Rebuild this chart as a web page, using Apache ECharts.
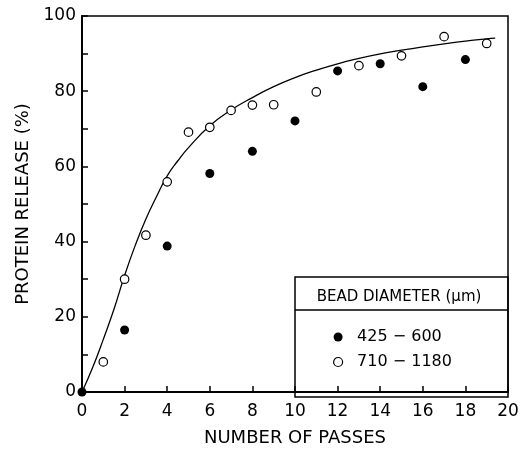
<!DOCTYPE html>
<html>
<head>
<meta charset="utf-8">
<script src="https://cdn.jsdelivr.net/npm/echarts@6/dist/echarts.min.js"></script>
<style>
  html, body { margin: 0; padding: 0; background: #fff; }
  #chart { width: 522px; height: 452px; }
</style>
</head>
<body>
<div id="chart"></div>
<script>
// 425 - 600 um beads (filled)
const smallPasses = [0, 2, 4, 6, 8, 10, 12, 14, 16, 18];
const smallRelease = [0, 16.5, 38.8, 58.1, 64.0, 72.1, 85.4, 87.3, 81.2, 88.4];
// 710 - 1180 um beads (open)
const largePasses = [1, 2, 3, 4, 5, 6, 7, 8, 9, 11, 13, 15, 17, 19];
const largeRelease = [8.0, 30.0, 41.7, 55.9, 69.1, 70.4, 74.9, 76.3, 76.4, 79.8, 86.8, 89.4, 94.5, 92.7];
// fitted curve
const curveX = [0, 0.5, 1, 1.5, 2, 2.5, 3, 3.5, 4, 4.5, 5, 6, 7, 8, 9, 10, 11, 12, 13, 14, 15, 16, 17, 18, 19, 19.4];
const curveY = [0, 6.5, 14, 22, 31, 39, 46, 52, 57.5, 61.5, 65, 70.8, 75, 78.3, 81.2, 83.6, 85.6, 87.3, 88.7, 89.9, 90.9, 91.8, 92.6, 93.3, 93.9, 94.1];

const seriesNames = ['425 \u2212 600', '710 \u2212 1180'];
const legendTitle = 'BEAD DIAMETER (\u03bcm)';

const zip = (xs, ys) => xs.map((x, i) => [x, ys[i]]);

const chart = echarts.init(document.getElementById('chart'));
const font = 'DejaVu Sans';

chart.setOption({
  animation: false,
  textStyle: { fontFamily: font, color: '#000' },
  grid: {
    left: 82, right: 14, top: 16, bottom: 55,
    show: true, borderColor: '#000', borderWidth: 1.5
  },
  xAxis: {
    type: 'value', min: 0, max: 20, interval: 2,
    name: 'NUMBER OF PASSES', nameLocation: 'middle', nameGap: 37,
    nameTextStyle: { fontSize: 18, color: '#000', fontFamily: font },
    axisLine: { lineStyle: { color: '#000', width: 2 } },
    axisTick: { inside: true, length: 6, lineStyle: { color: '#000', width: 1.5 } },
    axisLabel: { fontSize: 17, color: '#000', margin: 11, fontFamily: font },
    splitLine: { show: false }
  },
  yAxis: {
    type: 'value', min: 0, max: 100, interval: 10,
    name: 'PROTEIN RELEASE (%)', nameLocation: 'middle', nameGap: 50,
    nameTextStyle: { fontSize: 18, color: '#000', fontFamily: font },
    axisLine: { lineStyle: { color: '#000', width: 2 } },
    axisTick: { inside: true, length: 6, lineStyle: { color: '#000', width: 1.5 } },
    axisLabel: {
      fontSize: 17, color: '#000', margin: 6, fontFamily: font,
      formatter: v => (v % 20 === 0 ? String(v) : '')
    },
    splitLine: { show: false }
  },
  legend: {
    data: [
      { name: seriesNames[0], icon: 'circle', itemStyle: { color: '#000' } },
      { name: seriesNames[1], icon: 'circle', itemStyle: { color: '#fff', borderColor: '#000', borderWidth: 1.2 } }
    ],
    orient: 'vertical',
    left: 328, top: 322,
    itemWidth: 28, itemHeight: 9, itemGap: 5,
    textStyle: { fontSize: 16, color: '#000', fontFamily: font, lineHeight: 20 },
    selectedMode: false
  },
  graphic: [
    { type: 'rect', shape: { x: 295, y: 277, width: 213, height: 120 },
      style: { fill: 'rgba(0,0,0,0)', stroke: '#000', lineWidth: 1.5 }, z: 1 },
    { type: 'line', shape: { x1: 295, y1: 310, x2: 508, y2: 310 },
      style: { stroke: '#000', lineWidth: 1.5 }, z: 1 },
    { type: 'text', x: 399, y: 297,
      style: { text: legendTitle, fontSize: 15, fontFamily: font, fill: '#000',
               align: 'center', verticalAlign: 'middle' }, z: 1 }
  ],
  series: [
    {
      type: 'line', name: 'fit', data: zip(curveX, curveY),
      smooth: true, showSymbol: false, symbol: 'none',
      lineStyle: { color: '#000', width: 1.3 }, z: 2
    },
    {
      type: 'scatter', name: seriesNames[0], data: zip(smallPasses, smallRelease),
      symbol: 'circle', symbolSize: 9,
      itemStyle: { color: '#000', opacity: 1 }, z: 4
    },
    {
      type: 'scatter', name: seriesNames[1], data: zip(largePasses, largeRelease),
      symbol: 'circle', symbolSize: 8.5,
      itemStyle: { color: '#fff', borderColor: '#000', borderWidth: 1.2, opacity: 1 }, z: 3
    }
  ]
});
</script>
</body>
</html>
